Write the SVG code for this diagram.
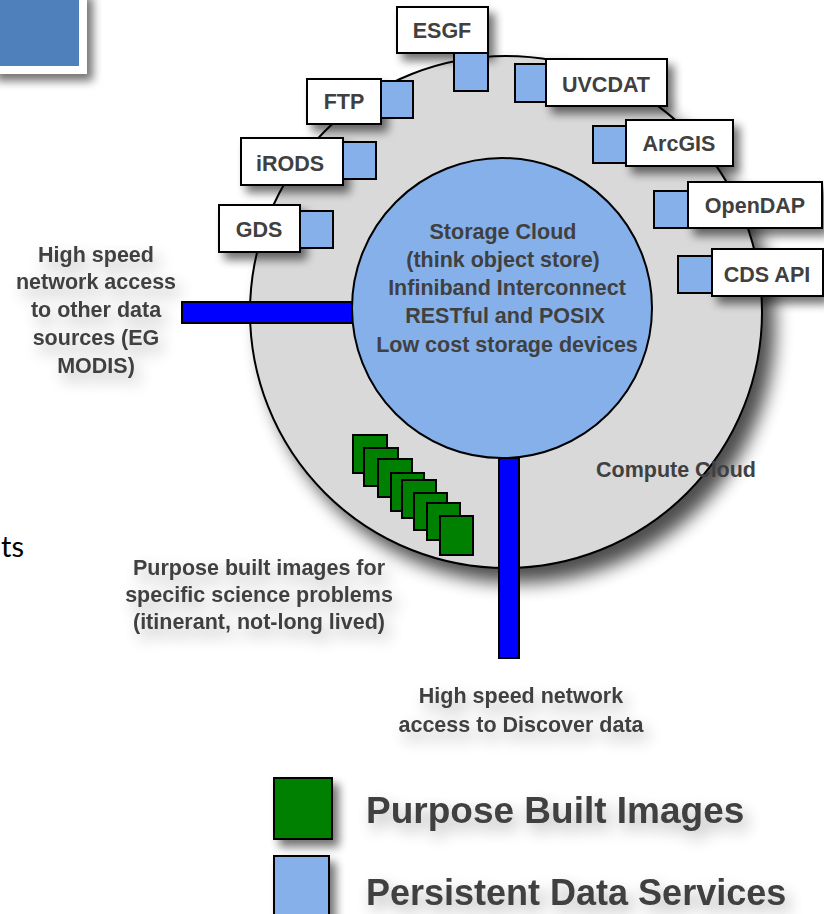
<svg xmlns="http://www.w3.org/2000/svg" width="824" height="914" viewBox="0 0 824 914">
<defs>
<filter id="sh" x="-30%" y="-30%" width="170%" height="170%">
<feGaussianBlur in="SourceAlpha" stdDeviation="5"/>
<feOffset dx="6" dy="7" result="b"/>
<feComponentTransfer><feFuncA type="linear" slope="0.55"/></feComponentTransfer>
<feMerge><feMergeNode/><feMergeNode in="SourceGraphic"/></feMerge>
</filter>
<filter id="csh" x="-20%" y="-20%" width="150%" height="150%">
<feGaussianBlur in="SourceAlpha" stdDeviation="9"/>
<feOffset dx="12" dy="14"/>
<feComponentTransfer><feFuncA type="linear" slope="0.7"/></feComponentTransfer>
<feMerge><feMergeNode/><feMergeNode in="SourceGraphic"/></feMerge>
</filter>
<filter id="tsh" x="-30%" y="-50%" width="160%" height="200%">
<feGaussianBlur in="SourceAlpha" stdDeviation="8"/>
<feOffset dx="5" dy="8"/>
<feComponentTransfer><feFuncA type="linear" slope="0.3"/></feComponentTransfer>
<feMerge><feMergeNode/><feMergeNode in="SourceGraphic"/></feMerge>
</filter>
</defs>
<style>
.t{font-family:"Liberation Sans",Arial,sans-serif;font-weight:bold;fill:#404040;text-anchor:middle;font-size:21.5px}
.box{fill:#fff;stroke:#000;stroke-width:2}
.sq{fill:#85B0EA;stroke:#000;stroke-width:2}
.gr{fill:#008000;stroke:#000;stroke-width:2}
.bar{fill:#0000FF;stroke:#000;stroke-width:2}
</style>
<rect width="824" height="914" fill="#fff"/>
<g id="slide-corner" filter="url(#sh)">
<rect x="-10" y="-10" width="97" height="84" fill="#fff"/>
<rect x="-10" y="-10" width="89" height="76" fill="#5080BC"/>
</g>
<text x="1" y="557" font-family="Lato,'Open Sans',sans-serif" font-size="29" fill="#000">ts</text>

<g id="compute-cloud">
<circle cx="506" cy="312" r="256" fill="#D9D9D9" stroke="#000" stroke-width="2" filter="url(#csh)"/>
<text class="t" x="676" y="477">Compute Cloud</text>
</g>

<g id="connectors">
<rect class="bar" x="182" y="302" width="172" height="21"/>
<rect class="bar" x="499" y="458" width="20" height="200"/>
</g>

<g id="storage-cloud">
<circle cx="502" cy="308" r="150" fill="#85B0EA" stroke="#000" stroke-width="2"/>
<text class="t" x="503" y="239">Storage Cloud</text>
<text class="t" x="503" y="267">(think object store)</text>
<text class="t" x="507" y="295">Infiniband Interconnect</text>
<text class="t" x="505" y="323">RESTful and POSIX</text>
<text class="t" x="507" y="352">Low cost storage devices</text>
</g>

<g id="images">
<rect class="gr" x="353" y="435" width="34" height="38"/>
<rect class="gr" x="364" y="448" width="34" height="38"/>
<rect class="gr" x="378" y="459" width="34" height="38"/>
<rect class="gr" x="391" y="473" width="33" height="38"/>
<rect class="gr" x="402" y="480" width="34" height="38"/>
<rect class="gr" x="414" y="493" width="33" height="37"/>
<rect class="gr" x="427" y="503" width="33" height="37"/>
<rect class="gr" x="440" y="516" width="33" height="39"/>
</g>

<g id="esgf"><rect class="box" x="397" y="7" width="91" height="46" filter="url(#sh)"/><rect class="sq" x="454" y="53" width="34" height="38"/><text class="t" x="442" y="38">ESGF</text></g>
<g id="ftp"><rect class="box" x="307" y="79" width="74" height="45" filter="url(#sh)"/><rect class="sq" x="381" y="81" width="32" height="37"/><text class="t" x="344" y="109">FTP</text></g>
<g id="irods"><rect class="box" x="241" y="138" width="102" height="47" filter="url(#sh)"/><rect class="sq" x="343" y="142" width="33" height="37"/><text class="t" x="290" y="171">iRODS</text></g>
<g id="gds"><rect class="box" x="219" y="205" width="81" height="47" filter="url(#sh)"/><rect class="sq" x="300" y="211" width="33" height="37"/><text class="t" x="259" y="237">GDS</text></g>
<g id="uvcdat"><rect class="box" x="546" y="59" width="121" height="47" filter="url(#sh)"/><rect class="sq" x="515" y="64" width="31" height="38"/><text class="t" x="606" y="92">UVCDAT</text></g>
<g id="arcgis"><rect class="box" x="626" y="120" width="107" height="46" filter="url(#sh)"/><rect class="sq" x="593" y="126" width="33" height="37"/><text class="t" x="679" y="151">ArcGIS</text></g>
<g id="opendap"><rect class="box" x="688" y="182" width="134" height="46" filter="url(#sh)"/><rect class="sq" x="654" y="191" width="34" height="37"/><text class="t" x="755" y="213">OpenDAP</text></g>
<g id="cdsapi"><rect class="box" x="712" y="249" width="111" height="47" filter="url(#sh)"/><rect class="sq" x="678" y="256" width="34" height="37"/><text class="t" x="767" y="282">CDS API</text></g>

<g id="label-left" filter="url(#tsh)">
<text class="t" x="96" y="262">High speed</text>
<text class="t" x="96" y="289">network access</text>
<text class="t" x="96" y="317">to other data</text>
<text class="t" x="96" y="345">sources (EG</text>
<text class="t" x="96" y="373">MODIS)</text>
</g>
<g id="label-images" filter="url(#tsh)">
<text class="t" x="259" y="575">Purpose built images for</text>
<text class="t" x="259" y="602">specific science problems</text>
<text class="t" x="259" y="629">(itinerant, not-long lived)</text>
</g>
<g id="label-discover" filter="url(#tsh)">
<text class="t" x="521" y="703">High speed network</text>
<text class="t" x="521" y="732">access to Discover data</text>
</g>

<g id="legend">
<g filter="url(#sh)"><rect class="gr" x="274" y="778" width="58" height="61"/></g>
<g filter="url(#sh)"><rect class="sq" x="274" y="856" width="55" height="66"/></g>
<g filter="url(#tsh)">
<text class="t" x="366" y="823" style="text-anchor:start;font-size:37px">Purpose Built Images</text>
<text class="t" x="366" y="905" style="text-anchor:start;font-size:36px">Persistent Data Services</text>
</g>
</g>
</svg>
